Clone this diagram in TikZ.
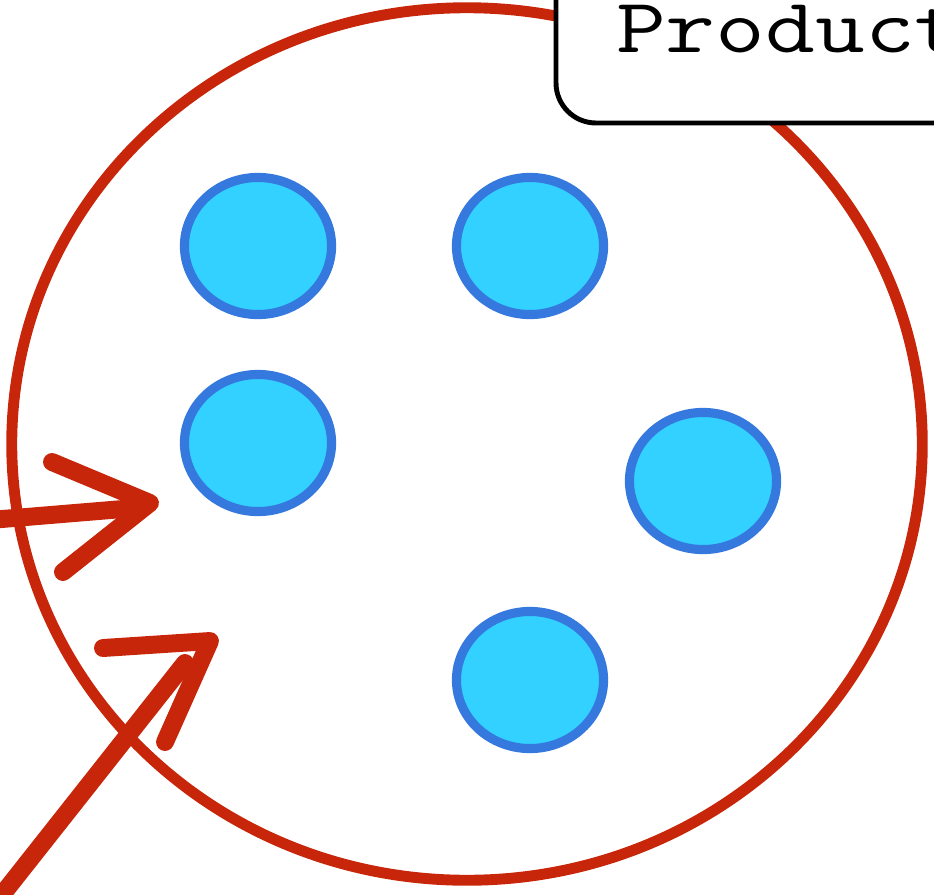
\documentclass[tikz,border=0pt]{standalone}
\usepackage{graphicx}
\usetikzlibrary{shapes.geometric}
\definecolor{penred}{RGB}{200,38,10}
\definecolor{cellfill}{RGB}{51,209,255}
\definecolor{cellline}{RGB}{53,120,222}
\tikzset{
  pool/.style={draw=penred, line width=3.1pt, ellipse, minimum width=9.1cm, minimum height=8.72cm, inner sep=0pt},
  cell/.style={draw=cellline, fill=cellfill, line width=2.6pt, ellipse, minimum width=1.47cm, minimum height=1.37cm, inner sep=0pt},
  labelbox/.style={draw=black, fill=white, line width=1.4pt, rounded corners=0.4cm, outer sep=0pt,
    inner xsep=0.6cm, inner ysep=0.55cm, text height=0.5cm, text depth=0.15cm,
    font=\ttfamily\fontsize{22}{26}\selectfont},
  pen/.style={draw=penred, line width=5.1pt, line cap=round, line join=round}
}
\begin{document}
\begin{tikzpicture}[x=0.01cm, y=-0.01cm]
  \useasboundingbox (0,0) rectangle (934,894);
  \clip (0,0) rectangle (934,894);
  % the hand-drawn ring
  \node[pool] (pool) at (467,444) {};
  % the label, cut off at the top right
  \node[labelbox, anchor=south west] (title) at (556,123) {\scalebox{1.25}[1]{Product}};
  % the items inside
  \node[cell] (c1) at (258,246) {};
  \node[cell] (c2) at (530,246) {};
  \node[cell] (c3) at (258,443) {};
  \node[cell] (c4) at (703,481) {};
  \node[cell] (c5) at (530,680) {};
  % incoming arrows
  \coordinate (s1) at (-10,520);
  \coordinate (h1) at (135,508);
  \coordinate (a1) at (52,462);
  \coordinate (t1) at (150,503);
  \coordinate (b1) at (63,572);
  \draw[pen] (s1) -- (h1);
  \draw[pen] (a1) -- (t1) -- (b1);
  \coordinate (s2) at (-10,910);
  \coordinate (h2) at (185,663);
  \coordinate (a2) at (103,648);
  \coordinate (t2) at (210,641);
  \coordinate (b2) at (165,742);
  \draw[pen] (s2) -- (h2);
  \draw[pen] (a2) -- (t2) -- (b2);
\end{tikzpicture}
\end{document}
